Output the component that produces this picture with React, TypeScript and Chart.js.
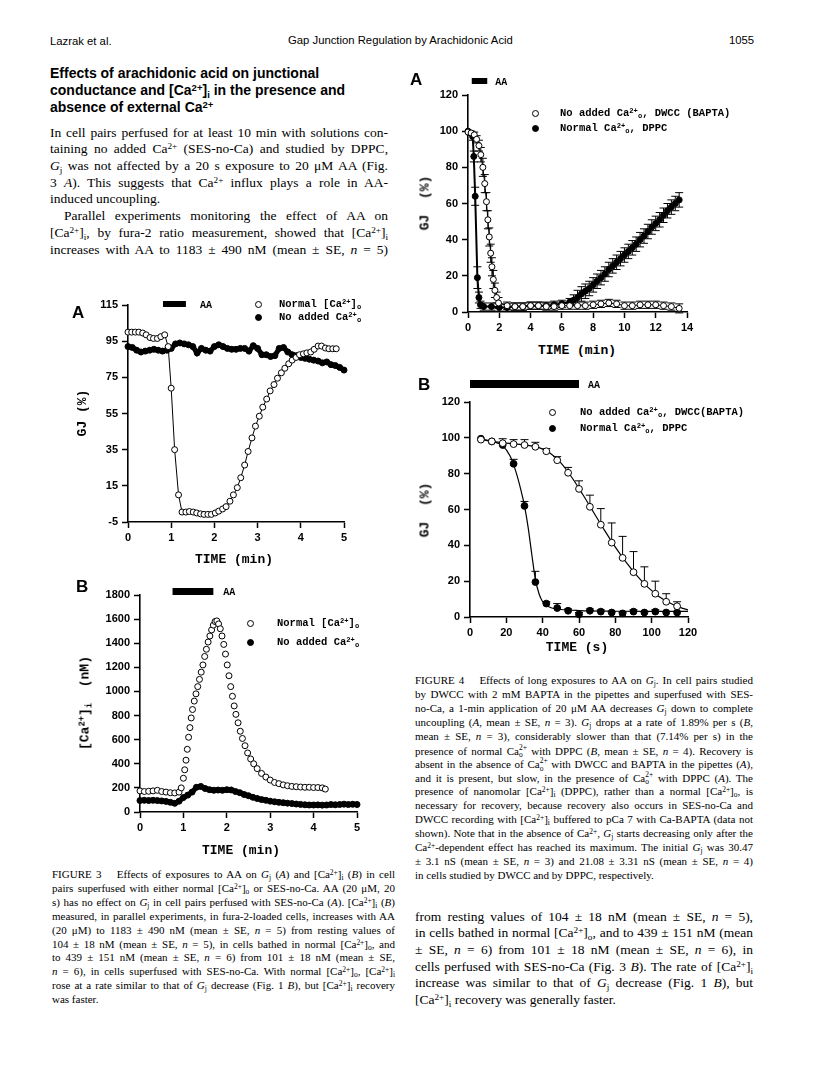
import React, { useEffect, useRef } from "react";
import { Chart, registerables } from "chart.js";
Chart.register(...registerables);

const SERIF = '"Liberation Serif","Times New Roman",Times,serif';
const SANS = '"Liberation Sans",Arial,Helvetica,sans-serif';
const MONO = '"Liberation Mono","Courier New",monospace';

// ---------------- Figure 3A : Gj (%) vs time (min) ----------------
const fig3aNormalTime = [0, 0.085, 0.17, 0.25, 0.34, 0.42, 0.51, 0.59, 0.68, 0.76, 0.85, 0.93, 1.0, 1.08, 1.17, 1.25, 1.34, 1.42, 1.51, 1.59, 1.68, 1.76, 1.85, 1.93, 2.02, 2.1, 2.19, 2.27, 2.36, 2.44, 2.53, 2.61, 2.7, 2.78, 2.87, 2.95, 3.04, 3.12, 3.21, 3.29, 3.38, 3.46, 3.55, 3.63, 3.72, 3.8, 3.89, 3.97, 4.06, 4.14, 4.23, 4.31, 4.4, 4.48, 4.57, 4.65, 4.74, 4.82];
const fig3aNormalGj = [100, 100, 100, 100, 99.5, 98.5, 97, 96.5, 96.5, 97.5, 98.5, 92, 69, 35, 10, 0.5, 0.5, 0.8, 0.5, 0, -0.5, -0.8, -0.8, -0.8, 0, 1, 2.2, 3.5, 6.5, 10, 14, 19.5, 26.5, 34, 41.5, 48, 53.5, 58.5, 63, 67.5, 71, 74.5, 77.5, 80, 82.5, 84.5, 86, 87.5, 88, 88.5, 89, 90.5, 92.3, 92.3, 91.2, 90.8, 90.8, 90.8];
const tenthMinutes = [0, 0.1, 0.2, 0.3, 0.4, 0.5, 0.6, 0.7, 0.8, 0.9, 1.0, 1.1, 1.2, 1.3, 1.4, 1.5, 1.6, 1.7, 1.8, 1.9, 2.0, 2.1, 2.2, 2.3, 2.4, 2.5, 2.6, 2.7, 2.8, 2.9, 3.0, 3.1, 3.2, 3.3, 3.4, 3.5, 3.6, 3.7, 3.8, 3.9, 4.0, 4.1, 4.2, 4.3, 4.4, 4.5, 4.6, 4.7, 4.8, 4.9, 5.0];
const fig3aNoCaGj = [92, 91.5, 90, 89, 89.5, 90, 90.5, 90, 89.5, 90, 91, 93.5, 94, 93.5, 93, 92, 88.5, 91, 90, 89.5, 92, 93, 92, 91, 90.5, 90.5, 91, 91, 89.5, 92.5, 91, 87.5, 87.5, 86.5, 87, 91, 91.5, 89, 87.5, 87, 86, 85.5, 85, 84.5, 84, 83, 83.5, 82, 81.5, 80.5, 79];
const fig3aAA = [0.81, 1.34];
const fig3aXTicks = [0, 5, 1];
const fig3aYTicks = [-5, 115, 20];

// ---------------- Figure 3B : [Ca2+]i (nM) vs time (min) ----------------
const fig3bNormalTime = [0, 0.1, 0.2, 0.3, 0.4, 0.5, 0.6, 0.7, 0.8, 0.9, 0.95, 1.0, 1.03, 1.06, 1.09, 1.12, 1.15, 1.18, 1.21, 1.25, 1.29, 1.33, 1.37, 1.41, 1.45, 1.49, 1.53, 1.57, 1.61, 1.65, 1.69, 1.73, 1.77, 1.81, 1.85, 1.89, 1.93, 1.97, 2.01, 2.05, 2.09, 2.13, 2.17, 2.21, 2.26, 2.31, 2.36, 2.42, 2.48, 2.55, 2.62, 2.7, 2.8, 2.9, 3.0, 3.1, 3.2, 3.3, 3.4, 3.5, 3.6, 3.7, 3.8, 3.9, 4.0, 4.1, 4.2, 4.27];
const fig3bNormalCa = [175, 170, 172, 175, 180, 170, 165, 160, 158, 165, 200, 280, 350, 430, 520, 620, 700, 780, 850, 920, 980, 1040, 1100, 1160, 1220, 1290, 1350, 1410, 1460, 1510, 1550, 1580, 1585, 1560, 1520, 1460, 1390, 1310, 1220, 1130, 1040, 960, 880, 810, 740, 670, 610, 550, 490, 440, 400, 360, 320, 290, 265, 245, 235, 225, 218, 212, 210, 207, 205, 205, 203, 203, 200, 190];
const fig3bNoCaCa = [95, 97, 95, 97, 95, 92, 88, 80, 72, 90, 120, 140, 165, 205, 212, 195, 185, 180, 182, 180, 185, 183, 170, 160, 145, 135, 122, 112, 103, 97, 90, 85, 80, 77, 73, 70, 66, 63, 60, 58, 58, 59, 57, 58, 62, 60, 62, 65, 62, 64, 62];
const fig3bAA = [0.75, 1.69];
const fig3bXTicks = [0, 5, 1];
const fig3bYTicks = [0, 1800, 200];

// ---------------- Figure 4A : Gj (%) vs time (min) ----------------
const fig4aDwccTime = [0, 0.2, 0.4, 0.55, 0.7, 0.82, 0.95, 1.07, 1.18, 1.27, 1.36, 1.45, 1.53, 1.62, 1.72, 1.83, 1.95, 2.5, 3, 3.5, 4, 4.5, 5, 5.5, 6, 6.5, 7, 7.5, 8, 8.5, 9, 9.5, 10, 10.5, 11, 11.5, 12, 12.5, 13, 13.5];
const fig4aDwccGj = [99.5, 99, 98, 95.5, 92, 87, 80, 71, 61, 51, 41.5, 32.5, 25, 18, 12, 8, 5, 3.5, 3, 3, 3.5, 3.5, 3, 3, 3.5, 3.5, 3.5, 3.5, 4, 4.5, 5, 4.5, 3.5, 3.5, 4, 4, 4, 3.5, 3, 2];
const fig4aDwccErr = [0, 1, 1.5, 2, 3, 4, 5, 5, 5, 5, 5, 5, 5, 5, 4, 3, 3, 2, 2, 2, 2, 2, 2, 2, 2, 2, 2, 2, 2, 2, 2, 2, 2, 2, 2, 2, 2, 2, 2, 2.5];
const fig4aDppcTime = [0, 0.15, 0.3, 0.37, 0.46, 0.6, 0.7, 0.8, 1, 1.5, 2, 2.5, 3, 3.5, 4, 4.5, 5, 5.5, 6, 6.5, 6.75, 7, 7.25, 7.5, 7.75, 8, 8.25, 8.5, 8.75, 9, 9.25, 9.5, 9.75, 10, 10.25, 10.5, 10.75, 11, 11.25, 11.5, 11.75, 12, 12.25, 12.5, 12.75, 13, 13.25, 13.5];
const fig4aDppcGj = [100, 99, 97, 86, 64, 19, 8, 4, 3, 3, 2.5, 2.5, 3, 3, 3.5, 3.5, 3.5, 4, 4.5, 5.5, 6.5, 8, 10, 11.5, 13, 15, 17, 19, 21, 23.5, 25.5, 27.5, 29.5, 31.5, 33.5, 35.5, 37.5, 40, 42, 44.5, 47, 49, 51, 53.5, 56, 58, 60, 62];
const fig4aDppcErr = [0, 1, 2, 3, 5, 6, 3, 2, 2, 2, 2, 2, 2, 2, 2, 2, 2, 2, 2, 2, 3, 4, 4, 4, 4, 4, 4, 4, 4, 4, 4, 4, 4, 4, 4, 4, 4, 4, 4, 4, 4, 4, 4, 4, 4, 4, 4, 4];
const fig4aAA = [0.24, 1.23];
const fig4aXTicks = [0, 14, 2];
const fig4aYTicks = [0, 120, 20];

// ---------------- Figure 4B : Gj (%) vs time (s) ----------------
const fig4bTime = [6, 12, 18, 24, 30, 36, 42, 48, 54, 60, 66, 72, 78, 84, 90, 96, 102, 108, 114];
const fig4bDwccGj = [99, 98, 97, 96.5, 96, 95, 92.5, 87.5, 80.5, 71.5, 61.5, 51.5, 41.5, 33, 25, 18.5, 13, 8.5, 6];
const fig4bDwccErr = [0, 0, 2.5, 2.5, 3, 2.5, 1.5, 2, 3, 4.5, 6.5, 9, 11, 12, 11.5, 9.5, 7, 4.5, 2.5];
const fig4bDppcGj = [99.5, 98, 96, 85.5, 62, 19.5, 7.5, 5, 3.5, 1.5, 3.5, 3, 2.5, 2, 3, 2.5, 3, 2.5, 2.5];
const fig4bDppcErr = [0, 0, 0, 2.5, 2.5, 6, 1, 2.5, 1, 1, 1, 1, 0.5, 0.5, 1, 0.5, 1, 0.5, 0.5];
const fig4bFitDwccTime = [6, 12, 20, 30, 38, 44, 50, 56, 62, 68, 74, 80, 86, 92, 98, 104, 110, 116, 120];
const fig4bFitDwccGj = [99, 98, 97, 96, 94.5, 91.5, 86, 78, 68.5, 58.5, 48.5, 39, 30.5, 23, 16.5, 11.5, 7.8, 5.2, 4];
const fig4bFitDppcTime = [6, 12, 18, 22, 25, 28, 30, 32, 34, 36, 38, 40, 42, 45, 50, 60, 80, 100, 120];
const fig4bFitDppcGj = [99.5, 98, 95.5, 90, 82, 71, 62, 50, 35, 21, 13, 8.5, 6.5, 5, 4.2, 3.6, 3.2, 3.1, 3.1];
const fig4bAA = [0, 60];
const fig4bXTicks = [0, 120, 20];
const fig4bYTicks = [0, 120, 20];

// ---------------- chart helpers ----------------
const YW = 46, XH = 30, PT = 28, PR = 16;

const pts = (xs: number[], ys: number[]) => xs.map((x, i) => ({ x, y: ys[i] }));

const aaBarPlugin = {
  id: "aaBar",
  afterDraw(chart: any, _a: any, o: any) {
    if (!o || o.from == null) return;
    const ctx = chart.ctx;
    const xs = chart.scales.x;
    const top = chart.chartArea.top + o.dy;
    const x0 = xs.getPixelForValue(o.from);
    const x1 = xs.getPixelForValue(o.to);
    ctx.save();
    ctx.fillStyle = "#000";
    ctx.fillRect(x0, top, x1 - x0, o.h);
    ctx.font = `bold 10px ${MONO}`;
    ctx.textBaseline = "middle";
    ctx.fillText("AA", x1 + o.gap, top + o.h / 2 + 1);
    ctx.restore();
  },
};

const errorBarPlugin = {
  id: "errorBars",
  beforeDatasetsDraw(chart: any) {
    const ctx = chart.ctx;
    const xs = chart.scales.x, ys = chart.scales.y;
    chart.data.datasets.forEach((ds: any) => {
      if (!ds.errors) return;
      ctx.save();
      ctx.strokeStyle = "#000";
      ctx.lineWidth = 1;
      const c = ds.capHalf ?? 4;
      ds.data.forEach((p: any, i: number) => {
        const e = ds.errors[i];
        if (!e) return;
        const x = xs.getPixelForValue(p.x);
        const yTop = ys.getPixelForValue(p.y + e);
        const yBot = ys.getPixelForValue(ds.errorBoth ? p.y - e : p.y);
        ctx.beginPath();
        ctx.moveTo(x, yBot);
        ctx.lineTo(x, yTop);
        ctx.moveTo(x - c, yTop);
        ctx.lineTo(x + c, yTop);
        if (ds.errorBoth) {
          ctx.moveTo(x - c, yBot);
          ctx.lineTo(x + c, yBot);
        }
        ctx.stroke();
      });
      ctx.restore();
    });
  },
};

function axis(t: number[], which: "x" | "y") {
  return {
    type: "linear",
    min: t[0],
    max: t[1],
    afterFit: (s: any) => {
      if (which === "x") s.height = XH;
      else s.width = YW;
    },
    ticks: {
      stepSize: t[2],
      autoSkip: false,
      maxRotation: 0,
      color: "#000",
      padding: which === "x" ? 3 : 4,
      font: { family: SANS, size: 11, weight: "bold" },
      callback: (v: any) => String(v),
    },
    grid: {
      drawOnChartArea: false,
      drawTicks: true,
      tickLength: 6,
      tickColor: "#000",
      tickWidth: 1.5,
      color: "#000",
    },
    border: { display: true, color: "#000", width: 1.6 },
  };
}

function openDs(data: any[], extra: any = {}) {
  return {
    data,
    pointStyle: "circle",
    pointRadius: 3,
    pointBackgroundColor: "#fff",
    pointBorderColor: "#000",
    pointBorderWidth: 1,
    borderColor: "#000",
    borderWidth: 1,
    showLine: false,
    clip: false,
    ...extra,
  };
}
function filledDs(data: any[], extra: any = {}) {
  return openDs(data, { pointBackgroundColor: "#000", ...extra });
}
function lineDs(data: any[], extra: any = {}) {
  return {
    data,
    pointRadius: 0,
    showLine: true,
    borderColor: "#000",
    borderWidth: 1.2,
    tension: 0.4,
    cubicInterpolationMode: "monotone",
    clip: false,
    ...extra,
  };
}

function makeConfig(datasets: any[], xt: number[], yt: number[], aa: any) {
  return {
    type: "scatter",
    data: { datasets },
    options: {
      animation: false,
      responsive: false,
      devicePixelRatio: 1,
      events: [],
      layout: { padding: { top: PT, right: PR, left: 0, bottom: 0 } },
      plugins: { legend: { display: false }, tooltip: { enabled: false }, aaBar: aa },
      scales: { x: axis(xt, "x"), y: axis(yt, "y") },
    },
    plugins: [aaBarPlugin, errorBarPlugin],
  };
}

type Area = { l: number; t: number; r: number; b: number };

function ChartPanel({ area, build }: { area: Area; build: () => any }) {
  const ref = useRef<HTMLCanvasElement>(null);
  useEffect(() => {
    const chart = new Chart(ref.current as HTMLCanvasElement, build());
    return () => chart.destroy();
  }, []);
  const w = area.r - area.l + YW + PR;
  const h = area.b - area.t + PT + XH;
  return (
    <canvas
      ref={ref}
      width={w}
      height={h}
      style={{ position: "absolute", left: area.l - YW, top: area.t - PT, width: w, height: h }}
    />
  );
}

const build3A = () =>
  makeConfig(
    [
      openDs(pts(fig3aNormalTime, fig3aNormalGj), { showLine: true }),
      filledDs(pts(tenthMinutes, fig3aNoCaGj), { showLine: true, borderWidth: 5, pointRadius: 3 }),
    ],
    fig3aXTicks,
    fig3aYTicks,
    { from: fig3aAA[0], to: fig3aAA[1], dy: -4, h: 6, gap: 14 }
  );

const build3B = () =>
  makeConfig(
    [
      openDs(pts(fig3bNormalTime, fig3bNormalCa)),
      filledDs(pts(tenthMinutes, fig3bNoCaCa), { showLine: true, borderWidth: 5, pointRadius: 3 }),
    ],
    fig3bXTicks,
    fig3bYTicks,
    { from: fig3bAA[0], to: fig3bAA[1], dy: -7, h: 7, gap: 10 }
  );

const build4A = () =>
  makeConfig(
    [
      openDs(pts(fig4aDwccTime, fig4aDwccGj), { showLine: true, errors: fig4aDwccErr, errorBoth: true, capHalf: 4 }),
      filledDs(pts(fig4aDppcTime, fig4aDppcGj), { showLine: true, borderWidth: 2, errors: fig4aDppcErr, errorBoth: true, capHalf: 4 }),
    ],
    fig4aXTicks,
    fig4aYTicks,
    { from: fig4aAA[0], to: fig4aAA[1], dy: -17, h: 6, gap: 8 }
  );

const build4B = () =>
  makeConfig(
    [
      openDs(pts(fig4bTime, fig4bDwccGj), { pointRadius: 3.4, errors: fig4bDwccErr, capHalf: 4 }),
      filledDs(pts(fig4bTime, fig4bDppcGj), { pointRadius: 3.4, errors: fig4bDppcErr, capHalf: 4 }),
      lineDs(pts(fig4bFitDwccTime, fig4bFitDwccGj)),
      lineDs(pts(fig4bFitDppcTime, fig4bFitDppcGj)),
    ],
    fig4bXTicks,
    fig4bYTicks,
    { from: fig4bAA[0], to: fig4bAA[1], dy: -22, h: 8, gap: 9 }
  );

// ---------------- text helpers ----------------
const supS: any = { fontSize: "0.68em", verticalAlign: "0.42em", lineHeight: 0 };
const subS: any = { fontSize: "0.68em", verticalAlign: "-0.3em", lineHeight: 0 };
const S = (t: string) => <sup style={supS}>{t}</sup>;
const B = (t: string) => <sub style={subS}>{t}</sub>;
const Gj = () => (
  <>
    <i>G</i>
    {B("j")}
  </>
);
const Cai = () => (
  <>
    [Ca{S("2+")}]{B("i")}
  </>
);
const Cao = () => (
  <>
    [Ca{S("2+")}]{B("o")}
  </>
);
const Ca = () => (
  <>
    Ca{S("2+")}
  </>
);
const CaSO = () => (
  <>
    Ca
    <span style={{ display: "inline-block", fontSize: "0.68em", lineHeight: "0.95em", verticalAlign: "-0.35em" }}>
      <span style={{ display: "block" }}>2+</span>
      <span style={{ display: "block" }}>o</span>
    </span>
  </>
);

function Ln(p: { x: number; y: number; w: number; fs: number; lh: number; font?: string; j?: boolean; ind?: number; bold?: boolean; children: any }) {
  const j = p.j !== false;
  return (
    <div
      style={{
        position: "absolute",
        left: p.x,
        top: p.y - p.lh / 2,
        width: p.w,
        height: p.lh,
        lineHeight: `${p.lh}px`,
        fontSize: p.fs,
        fontFamily: p.font || SERIF,
        fontWeight: p.bold ? 700 : 400,
        textAlign: j ? "justify" : "left",
        textAlignLast: j ? "justify" : "left",
        paddingLeft: p.ind || 0,
        boxSizing: "border-box",
        color: "#000",
      }}
    >
      {p.children}
    </div>
  );
}

function Tx(p: { x: number; y: number; fs: number; font: string; bold?: boolean; center?: boolean; children: any }) {
  return (
    <div
      style={{
        position: "absolute",
        left: p.x,
        top: p.y,
        transform: p.center ? "translate(-50%,-50%)" : "translate(0,-50%)",
        fontSize: p.fs,
        fontFamily: p.font,
        fontWeight: p.bold ? 700 : 400,
        whiteSpace: "pre",
        lineHeight: 1,
        color: "#000",
      }}
    >
      {p.children}
    </div>
  );
}

function VTx(p: { x: number; y: number; children: any }) {
  return (
    <div
      style={{
        position: "absolute",
        left: p.x,
        top: p.y,
        transform: "translate(-50%,-50%) rotate(-90deg)",
        fontSize: 13,
        fontFamily: MONO,
        fontWeight: 700,
        whiteSpace: "pre",
        lineHeight: 1,
        color: "#000",
      }}
    >
      {p.children}
    </div>
  );
}

function Dot(p: { x: number; y: number; filled?: boolean }) {
  return (
    <div
      style={{
        position: "absolute",
        left: p.x - 3.5,
        top: p.y - 3.5,
        width: 7,
        height: 7,
        borderRadius: "50%",
        boxSizing: "border-box",
        border: "1.3px solid #000",
        background: p.filled ? "#000" : "#fff",
      }}
    />
  );
}

const LG = 10.5;

export default function App() {
  const bodyLH = 16.7;
  const capLH = 13.9;
  const left = [
    <>In cell pairs perfused for at least 10 min with solutions con-</>,
    <>taining no added <Ca /> (SES-no-Ca) and studied by DPPC,</>,
    <><Gj /> was not affected by a 20 s exposure to 20 μM AA (Fig.</>,
    <>3 <i>A</i>). This suggests that <Ca /> influx plays a role in AA-</>,
  ];
  const left2 = [
    <><Cai />, by fura-2 ratio measurement, showed that <Cai /></>,
    <>increases with AA to 1183 ± 490 nM (mean ± SE, <i>n</i> = 5)</>,
  ];
  const cap3 = [
    <>FIGURE 3{"\u2003 "}Effects of exposures to AA on <Gj /> (<i>A</i>) and <Cai /> (<i>B</i>) in cell</>,
    <>pairs superfused with either normal <Cao /> or SES-no-Ca. AA (20 μM, 20</>,
    <>s) has no effect on <Gj /> in cell pairs perfused with SES-no-Ca (<i>A</i>). <Cai /> (<i>B</i>)</>,
    <>measured, in parallel experiments, in fura-2-loaded cells, increases with AA</>,
    <>(20 μM) to 1183 ± 490 nM (mean ± SE, <i>n</i> = 5) from resting values of</>,
    <>104 ± 18 nM (mean ± SE, <i>n</i> = 5), in cells bathed in normal <Cao />, and</>,
    <>to 439 ± 151 nM (mean ± SE, <i>n</i> = 6) from 101 ± 18 nM (mean ± SE,</>,
    <><i>n</i> = 6), in cells superfused with SES-no-Ca. With normal <Cao />, <Cai /></>,
    <>rose at a rate similar to that of <Gj /> decrease (Fig. 1 <i>B</i>), but <Cai /> recovery</>,
  ];
  const cap4 = [
    <>FIGURE 4{"\u2003 "}Effects of long exposures to AA on <Gj />. In cell pairs studied</>,
    <>by DWCC with 2 mM BAPTA in the pipettes and superfused with SES-</>,
    <>no-Ca, a 1-min application of 20 μM AA decreases <Gj /> down to complete</>,
    <>uncoupling (<i>A</i>, mean ± SE, <i>n</i> = 3). <Gj /> drops at a rate of 1.89% per s (<i>B</i>,</>,
    <>mean ± SE, <i>n</i> = 3), considerably slower than that (7.14% per s) in the</>,
    <>presence of normal <CaSO /> with DPPC (<i>B</i>, mean ± SE, <i>n</i> = 4). Recovery is</>,
    <>absent in the absence of <CaSO /> with DWCC and BAPTA in the pipettes (<i>A</i>),</>,
    <>and it is present, but slow, in the presence of <CaSO /> with DPPC (<i>A</i>). The</>,
    <>presence of nanomolar <Cai /> (DPPC), rather than a normal <Cao />, is</>,
    <>necessary for recovery, because recovery also occurs in SES-no-Ca and</>,
    <>DWCC recording with <Cai /> buffered to pCa 7 with Ca-BAPTA (data not</>,
    <>shown). Note that in the absence of <Ca />, <Gj /> starts decreasing only after the</>,
    <><Ca />-dependent effect has reached its maximum. The initial <Gj /> was 30.47</>,
    <>± 3.1 nS (mean ± SE, <i>n</i> = 3) and 21.08 ± 3.31 nS (mean ± SE, <i>n</i> = 4)</>,
  ];
  const right = [
    <>from resting values of 104 ± 18 nM (mean ± SE, <i>n</i> = 5),</>,
    <>in cells bathed in normal <Cao />, and to 439 ± 151 nM (mean</>,
    <>± SE, <i>n</i> = 6) from 101 ± 18 nM (mean ± SE, <i>n</i> = 6), in</>,
    <>cells perfused with SES-no-Ca (Fig. 3 <i>B</i>). The rate of <Cai /></>,
    <>increase was similar to that of <Gj /> decrease (Fig. 1 <i>B</i>), but</>,
  ];

  return (
    <div style={{ position: "absolute", left: 0, top: 0, width: 816, height: 1067, background: "#fff", overflow: "hidden" }}>
      {/* running header */}
      <Tx x={50} y={42} fs={11.3} font={SANS}>Lazrak et al.</Tx>
      <Tx x={288} y={41} fs={11.3} font={SANS}>Gap Junction Regulation by Arachidonic Acid</Tx>
      <Tx x={729} y={41} fs={11.3} font={SANS}>1055</Tx>

      {/* section heading */}
      <Ln x={50} y={73} w={360} fs={14} lh={17} font={SANS} bold j={false}>Effects of arachidonic acid on junctional</Ln>
      <Ln x={50} y={90} w={360} fs={14} lh={17} font={SANS} bold j={false}>conductance and <Cai /> in the presence and</Ln>
      <Ln x={50} y={107} w={360} fs={14} lh={17} font={SANS} bold j={false}>absence of external <Ca /></Ln>

      {/* left body text */}
      {left.map((c, i) => (
        <Ln key={"l" + i} x={50} y={133 + i * bodyLH} w={338} fs={13.5} lh={bodyLH}>{c}</Ln>
      ))}
      <Ln x={50} y={133 + 4 * bodyLH} w={338} fs={13.5} lh={bodyLH} j={false}>induced uncoupling.</Ln>
      <Ln x={50} y={133 + 5 * bodyLH} w={338} fs={13.5} lh={bodyLH} ind={14}>Parallel experiments monitoring the effect of AA on</Ln>
      {left2.map((c, i) => (
        <Ln key={"m" + i} x={50} y={133 + (6 + i) * bodyLH} w={338} fs={13.5} lh={bodyLH}>{c}</Ln>
      ))}

      {/* ---------- Figure 3A ---------- */}
      <ChartPanel area={{ l: 128, t: 305, r: 344, b: 522 }} build={build3A} />
      <Tx x={72} y={312} fs={17} font={SANS} bold>A</Tx>
      <Dot x={258} y={304} />
      <Dot x={258} y={317} filled />
      <Tx x={279} y={304} fs={LG} font={MONO} bold>Normal <Cao /></Tx>
      <Tx x={279} y={317} fs={LG} font={MONO} bold>No added Ca{S("2+")}{B("o")}</Tx>
      <Tx x={234} y={559} fs={13} font={MONO} bold center>TIME (min)</Tx>
      <VTx x={82} y={413}>GJ (%)</VTx>

      {/* ---------- Figure 3B ---------- */}
      <ChartPanel area={{ l: 140, t: 595, r: 357, b: 812 }} build={build3B} />
      <Tx x={76} y={586} fs={17} font={SANS} bold>B</Tx>
      <Dot x={250} y={623} />
      <Dot x={250} y={642} filled />
      <Tx x={277} y={623} fs={LG} font={MONO} bold>Normal <Cao /></Tx>
      <Tx x={277} y={642} fs={LG} font={MONO} bold>No added Ca{S("2+")}{B("o")}</Tx>
      <Tx x={241} y={850} fs={13} font={MONO} bold center>TIME (min)</Tx>
      <VTx x={85} y={703}>[Ca{S("2+")}]{B("i")}  (nM)</VTx>

      {/* Figure 3 caption */}
      {cap3.map((c, i) => (
        <Ln key={"c3" + i} x={52} y={875 + i * capLH} w={343} fs={11} lh={capLH}>{c}</Ln>
      ))}
      <Ln x={52} y={875 + 9 * capLH} w={343} fs={11} lh={capLH} j={false}>was faster.</Ln>

      {/* ---------- Figure 4A ---------- */}
      <ChartPanel area={{ l: 468, t: 95, r: 687, b: 312 }} build={build4A} />
      <Tx x={410} y={79} fs={17} font={SANS} bold>A</Tx>
      <Dot x={535} y={113} />
      <Dot x={535} y={128} filled />
      <Tx x={560} y={113} fs={LG} font={MONO} bold>No added Ca{S("2+")}{B("o")}, DWCC (BAPTA)</Tx>
      <Tx x={560} y={128} fs={LG} font={MONO} bold>Normal Ca{S("2+")}{B("o")}, DPPC</Tx>
      <Tx x={577} y={350} fs={13} font={MONO} bold center>TIME (min)</Tx>
      <VTx x={425} y={203}>GJ  (%)</VTx>

      {/* ---------- Figure 4B ---------- */}
      <ChartPanel area={{ l: 470, t: 402, r: 688, b: 617 }} build={build4B} />
      <Tx x={418} y={384} fs={17} font={SANS} bold>B</Tx>
      <Dot x={552} y={412} />
      <Dot x={552} y={428} filled />
      <Tx x={580} y={412} fs={LG} font={MONO} bold>No added Ca{S("2+")}{B("o")}, DWCC(BAPTA)</Tx>
      <Tx x={580} y={428} fs={LG} font={MONO} bold>Normal Ca{S("2+")}{B("o")}, DPPC</Tx>
      <Tx x={577} y={647} fs={13} font={MONO} bold center>TIME (s)</Tx>
      <VTx x={425} y={510}>GJ  (%)</VTx>

      {/* Figure 4 caption */}
      {cap4.map((c, i) => (
        <Ln key={"c4" + i} x={415} y={681 + i * capLH} w={338} fs={11} lh={capLH}>{c}</Ln>
      ))}
      <Ln x={415} y={681 + 14 * capLH} w={338} fs={11} lh={capLH} j={false}>in cells studied by DWCC and by DPPC, respectively.</Ln>

      {/* right column body text */}
      {right.map((c, i) => (
        <Ln key={"r" + i} x={415} y={917 + i * bodyLH} w={338} fs={13.5} lh={bodyLH}>{c}</Ln>
      ))}
      <Ln x={415} y={917 + 5 * bodyLH} w={338} fs={13.5} lh={bodyLH} j={false}><Cai /> recovery was generally faster.</Ln>
    </div>
  );
}
